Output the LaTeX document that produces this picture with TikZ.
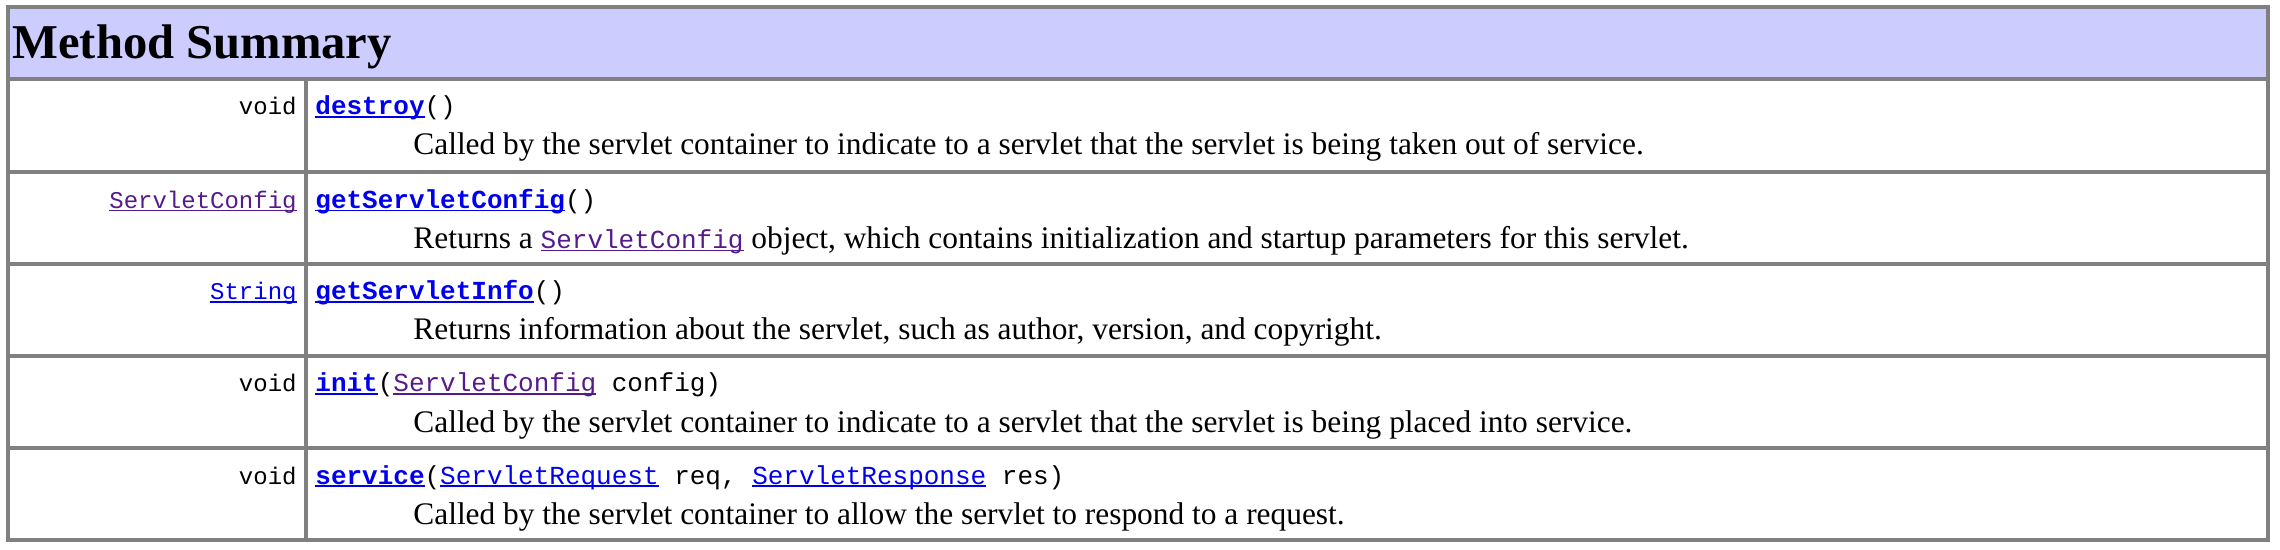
\documentclass[tikz,border=0pt]{standalone}
\usepackage{fontspec}
\setmainfont{Liberation Serif}
\setmonofont{Liberation Mono}
\usetikzlibrary{positioning}

\definecolor{headbg}{HTML}{CCCCFF}
\definecolor{rulegray}{HTML}{808080}
\definecolor{linkblue}{HTML}{0000EE}
\definecolor{linkvisited}{HTML}{551A8B}

% underlined link text, line runs through the descenders
\newcommand\linkul[2]{\textcolor{#1}{\setbox0\hbox{#2}\rlap{\vrule width\wd0 height -0.6pt depth 1.5pt}\box0}}
\newcommand\mname[1]{\linkul{linkblue}{\bfseries #1}}
\newcommand\codefont{\ttfamily\fontsize{13}{15}\selectfont}

\begin{document}
\begin{tikzpicture}[x=0.5pt,y=-0.5pt,
  every node/.style = {inner sep=0pt},
  rettype/.style = {anchor=base east, font=\ttfamily\fontsize{12}{14}\selectfont},
  sig/.style = {anchor=base west, font=\codefont},
  desc/.style = {anchor=base west, font=\fontsize{15.7}{18}\selectfont},
  grid/.style = {draw=rulegray, line width=2pt}]
  \useasboundingbox (0,0) rectangle (2280,550);
  \fill[headbg] (7.5,7.5) rectangle (2268,79);
  \node[anchor=base west, font=\bfseries\fontsize{24.3}{28}\selectfont] (title) at (12,58.5) {Method Summary};

  % row separators and column divider
  \draw[grid] (7.5,7.5) rectangle (2268,540);
  \foreach \y in {79,172.5,264,356,448}
    \draw[grid] (7.5,\y) -- (2268,\y);
  \draw[grid] (305.5,79) -- (305.5,540);

  \node[rettype] (t1) at (297,115) {void};
  \node[sig] (m1) at (315,115) {\mname{destroy}()};
  \node[desc] (d1) at (413,155) {Called by the servlet container to indicate to a servlet that the servlet is being taken out of service.};

  \node[rettype] (t2) at (297,208.5) {\linkul{linkvisited}{ServletConfig}};
  \node[sig] (m2) at (315,208.5) {\mname{getServletConfig}()};
  \node[desc] (d2) at (413,248.5) {Returns a {\codefont\linkul{linkvisited}{ServletConfig}} object, which contains initialization and startup parameters for this servlet.};

  \node[rettype] (t3) at (297,300) {\linkul{linkblue}{String}};
  \node[sig] (m3) at (315,300) {\mname{getServletInfo}()};
  \node[desc] (d3) at (413,340) {Returns information about the servlet, such as author, version, and copyright.};

  \node[rettype] (t4) at (297,392) {void};
  \node[sig] (m4) at (315,392) {\mname{init}(\linkul{linkvisited}{ServletConfig} config)};
  \node[desc] (d4) at (413,432) {Called by the servlet container to indicate to a servlet that the servlet is being placed into service.};

  \node[rettype] (t5) at (297,484) {void};
  \node[sig] (m5) at (315,484) {\mname{service}(\linkul{linkblue}{ServletRequest} req, \linkul{linkblue}{ServletResponse} res)};
  \node[desc] (d5) at (413,524) {Called by the servlet container to allow the servlet to respond to a request.};
\end{tikzpicture}
\end{document}
